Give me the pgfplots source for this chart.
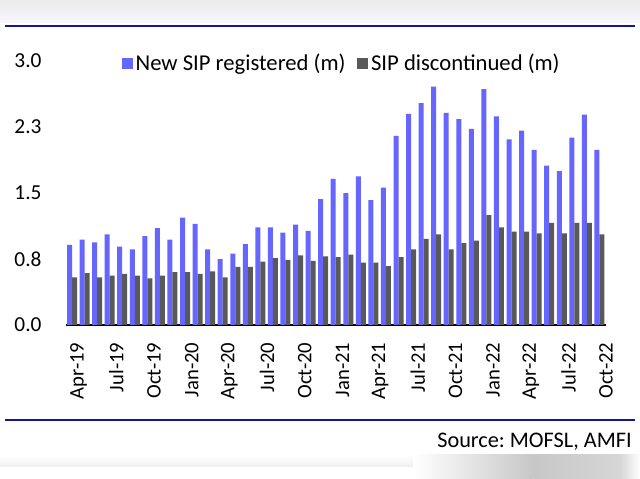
\documentclass[border=0pt]{standalone}
\usepackage{fontspec}
\setmainfont{Carlito}
\usepackage{pgfplots}
\usepackage{pgfplotstable}
\pgfplotsset{compat=1.18}
\frenchspacing
\definecolor{sipblue}{RGB}{102,102,255}
\definecolor{sipgray}{RGB}{89,89,89}
\definecolor{rulenavy}{RGB}{20,20,150}
\pgfplotstableread{
x blue gray
0 0.91 0.54
1 0.97 0.59
2 0.94 0.54
3 1.03 0.56
4 0.89 0.58
5 0.86 0.56
6 1.01 0.53
7 1.10 0.56
8 0.97 0.60
9 1.22 0.60
10 1.15 0.58
11 0.86 0.61
12 0.75 0.54
13 0.81 0.66
14 0.92 0.66
15 1.11 0.72
16 1.11 0.76
17 1.05 0.74
18 1.14 0.79
19 1.07 0.73
20 1.43 0.78
21 1.66 0.77
22 1.50 0.80
23 1.69 0.71
24 1.42 0.71
25 1.56 0.67
26 2.15 0.77
27 2.40 0.86
28 2.52 0.98
29 2.71 1.03
30 2.41 0.86
31 2.34 0.93
32 2.23 0.96
33 2.68 1.25
34 2.37 1.11
35 2.11 1.06
36 2.21 1.06
37 1.99 1.04
38 1.81 1.16
39 1.75 1.04
40 2.13 1.16
41 2.39 1.16
42 1.99 1.03
}\sipdata
\begin{document}
\begin{tikzpicture}
\useasboundingbox (0,0) rectangle (480pt,359.25pt);
\fill[white] (0,0) rectangle (480pt,359.25pt);
\shade[top color=black!8, bottom color=blue!3] (0,342pt) rectangle (480pt,359.25pt);
\draw[rulenavy, line width=1.5pt] (3.75pt,339.75pt) -- (476.25pt,339.75pt);
\draw[rulenavy, line width=1.5pt] (3.75pt,44.25pt) -- (476.25pt,44.25pt);
\shade[top color=white, bottom color=black!6] (0pt,9pt) rectangle (330pt,18pt);
\shade[left color=white, right color=black!22] (310pt,0pt) rectangle (400pt,18pt);
\shade[left color=black!22, right color=black!16] (400pt,0pt) rectangle (465pt,18pt);
\shade[left color=black!16, right color=white] (465pt,0pt) rectangle (480pt,18pt);
\node[anchor=east, inner sep=0pt, font=\fontsize{16.7}{19}\selectfont] at (474pt,27.75pt) {Source: MOFSL, AMFI};
\begin{axis}[
  at={(54pt,115.5pt)}, anchor=origin,
  scale only axis, width=405pt, height=198pt,
  xmin=-0.5, xmax=42.5, ymin=0, ymax=3,
  clip=false,
  ybar=0pt, bar width=3.75pt,
  axis lines=left,
  x axis line style={line width=1.5pt, -, black},
  y axis line style={draw=none},
  major tick length=0pt,
  ytick={0,0.75,1.5,2.25,3},
  yticklabels={0.0,0.8,1.5,2.3,3.0},
  yticklabel style={anchor=east, inner sep=0pt, xshift=-18pt, font=\fontsize{16}{18}\selectfont},
  xtick={0,3,...,42},
  xticklabels={Apr-19,Jul-19,Oct-19,Jan-20,Apr-20,Jul-20,Oct-20,Jan-21,Apr-21,Jul-21,Oct-21,Jan-22,Apr-22,Jul-22,Oct-22},
  xticklabel style={xshift=5pt, yshift=-13pt, rotate=90, anchor=east, inner sep=0pt, font=\fontsize{15.5}{18}\selectfont},
  legend style={at={(0.512,0.99)}, anchor=center, legend columns=2, draw=none, fill=none,
    font=\fontsize{17}{19}\selectfont,
    /tikz/every even column/.append style={column sep=7pt}},
  legend image code/.code={\fill[#1] (0pt,-4.1pt) rectangle (8.2pt,4.1pt);},
]
\addplot[fill=sipblue, draw=none] table[x=x, y=blue] {\sipdata};
\addlegendentry{New SIP registered (m)}
\addplot[fill=sipgray, draw=none] table[x=x, y=gray] {\sipdata};
\addlegendentry{SIP discontinued (m)}
\end{axis}
\end{tikzpicture}
\end{document}
